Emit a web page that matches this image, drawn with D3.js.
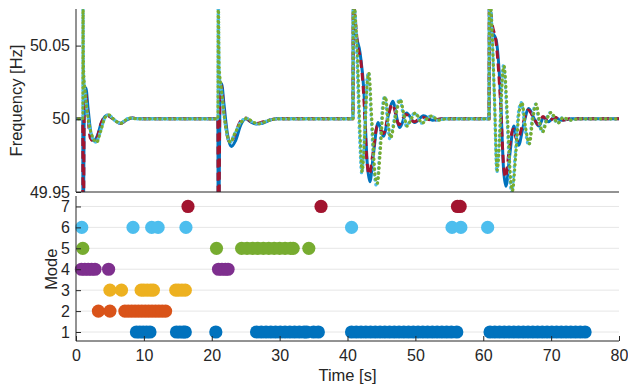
<!DOCTYPE html>
<html>
<head>
<meta charset="utf-8">
<script src="https://cdn.jsdelivr.net/npm/d3@7"></script>
<style>
  body { margin: 0; background: #fff; }
  svg { display: block; font-family: "Liberation Sans", Arial, sans-serif; }
  .axis path, .axis line { stroke: #262626; }
  .axis text { fill: #262626; font-size: 16px; }
  .label { fill: #262626; font-size: 16.5px; }
</style>
</head>
<body>
<svg id="chart" width="628" height="385"></svg>
<script>
// frequency traces, [time s, frequency Hz]
var freqBlue = [
  [0, 50], [1.0, 50], [1.02, 49.93], [1.1, 49.93], [1.2, 50.0], [1.45, 50.021], [1.8, 50.006], [2.2, 49.99],
  [2.6, 49.985], [3.1, 49.988], [3.8, 49.998], [4.6, 50.0025], [5.3, 50.0005], [6.0, 49.998], [6.6, 49.997],
  [7.4, 49.999], [8.3, 50.0006], [9.2, 50.0], [20.9, 50.0],
  [20.95, 49.93], [21.05, 49.93], [21.2, 50.01], [21.45, 50.024], [21.8, 50.01], [22.3, 49.99], [22.9, 49.981],
  [23.5, 49.985], [24.3, 49.996], [25.0, 50.0], [25.7, 49.998], [26.5, 49.9965], [27.5, 49.997], [28.5, 49.999],
  [29.5, 50.0], [40.8, 50.0],
  [40.85, 50.08], [41.2, 50.06], [41.85, 50.045], [42.4, 50.02], [42.9, 49.97], [43.3, 49.957], [43.8, 49.975],
  [44.5, 49.9975], [45.3, 49.988], [46.0, 50.002], [46.65, 50.012], [47.7, 49.994], [48.7, 50.004], [49.9, 49.9975],
  [51.2, 50.002], [52.5, 49.999], [54.0, 50.0], [60.85, 50.0],
  [60.9, 50.08], [61.3, 50.06], [61.9, 50.054], [62.5, 50.02], [63.0, 49.965], [63.35, 49.954], [63.9, 49.975],
  [64.5, 49.995], [65.2, 49.982], [65.9, 49.995], [66.7, 50.007], [67.5, 50.0], [68.2, 49.995], [68.9, 50.001],
  [69.6, 49.998], [70.5, 50.001], [71.5, 49.999], [73.0, 50.0], [80, 50.0]
];
var freqRed = [
  [0, 50], [1.0, 50], [1.02, 49.93], [1.12, 49.93], [1.2, 50.005], [1.35, 50.02], [1.7, 50.005], [2.1, 49.987],
  [2.5, 49.985], [3.0, 49.986], [3.7, 49.997], [4.6, 50.0025], [5.3, 50.0005], [6.0, 49.998], [6.5, 49.9968],
  [7.4, 49.999], [8.3, 50.0006], [9.2, 50.0], [20.9, 50.0],
  [20.95, 49.93], [21.05, 49.93], [21.2, 50.012], [21.4, 50.023], [21.8, 50.005], [22.3, 49.988], [22.7, 49.984],
  [23.3, 49.988], [24.2, 49.998], [25.0, 50.0005], [25.8, 49.998], [26.6, 49.9968], [27.6, 49.998], [28.8, 49.9995],
  [30.0, 50.0], [40.8, 50.0],
  [40.85, 50.08], [41.1, 50.07], [41.5, 50.05], [41.95, 50.04], [42.4, 50.015], [42.8, 49.975], [43.2, 49.962],
  [43.7, 49.975], [44.4, 49.995], [45.3, 49.99], [46.0, 50.002], [46.6, 50.01], [47.6, 49.996], [48.6, 50.003],
  [49.8, 49.998], [51.0, 50.001], [52.5, 49.999], [54.0, 50.0], [60.85, 50.0],
  [60.9, 50.08], [61.3, 50.065], [61.95, 50.05], [62.5, 50.015], [63.0, 49.968], [63.3, 49.96], [63.8, 49.978],
  [64.4, 49.993], [65.0, 49.985], [65.8, 49.996], [66.6, 50.006], [67.4, 50.001], [68.1, 49.996], [68.8, 50.0015],
  [69.6, 49.998], [70.5, 50.001], [71.5, 49.999], [73.0, 50.0], [80, 50.0]
];
var freqLightBlue = [
  [0, 50], [1.0, 50], [1.03, 50.09], [1.12, 50.03], [1.4, 50.015], [1.9, 49.997], [2.5, 49.986], [3.0, 49.984],
  [3.5, 49.99], [4.2, 50.0], [4.75, 50.0027], [5.4, 50.0005], [6.1, 49.9975], [6.6, 49.997], [7.3, 49.9995],
  [8.0, 50.0005], [8.8, 50.0], [20.9, 50.0],
  [20.95, 50.09], [21.1, 50.03], [21.4, 50.02], [21.9, 49.999], [22.4, 49.986], [22.7, 49.984], [23.3, 49.989],
  [24.3, 49.998], [25.1, 50.0003], [25.9, 49.998], [26.8, 49.9965], [27.8, 49.998], [28.8, 49.9995], [30.0, 50.0],
  [40.8, 50.0],
  [40.85, 50.09], [41.1, 50.075], [41.4, 50.04], [41.8, 49.985], [42.1, 49.9625], [42.5, 49.99], [42.9, 50.028],
  [43.1, 50.0315], [43.5, 50.0], [44.0, 49.96], [44.3, 49.954], [44.7, 49.975], [45.2, 50.01], [45.5, 50.0155],
  [45.9, 49.997], [46.25, 49.986], [46.9, 50.0], [47.7, 50.0136], [48.2, 50.003], [48.7, 49.995], [49.3, 50.0],
  [49.9, 50.004], [50.9, 49.997], [51.6, 50.0], [52.4, 50.002], [53.2, 49.999], [54.5, 50.0], [60.85, 50.0],
  [60.9, 50.09], [61.2, 50.07], [61.6, 50.02], [62.0, 49.9635], [62.4, 49.99], [62.8, 50.03], [63.0, 50.037],
  [63.5, 50.0], [64.0, 49.955], [64.2, 49.95], [64.7, 49.975], [65.2, 50.005], [65.6, 50.011], [66.1, 49.995],
  [66.7, 49.982], [67.2, 50.0], [67.7, 50.01], [68.2, 49.998], [68.65, 49.991], [69.3, 50.0], [69.9, 50.0043],
  [70.9, 49.997], [71.7, 50.001], [72.6, 49.999], [74.0, 50.0], [80, 50.0]
];
var freqGreen = [
  [0, 50], [1.0, 50], [1.03, 50.09], [1.1, 50.035], [1.4, 50.016], [1.95, 49.996], [2.5, 49.987], [3.05, 49.984],
  [3.6, 49.991], [4.3, 50.001], [4.8, 50.0027], [5.5, 50.0], [6.2, 49.9975], [6.7, 49.997], [7.4, 49.9995],
  [8.1, 50.0005], [8.9, 50.0], [20.9, 50.0],
  [20.95, 50.09], [21.1, 50.035], [21.4, 50.021], [21.95, 49.998], [22.45, 49.986], [22.75, 49.984], [23.4, 49.99],
  [24.4, 49.998], [25.2, 50.0003], [26.0, 49.998], [26.9, 49.9966], [27.9, 49.998], [28.9, 49.9995], [30.0, 50.0],
  [40.8, 50.0],
  [40.85, 50.09], [41.15, 50.07], [41.45, 50.045], [41.85, 49.99], [42.15, 49.964], [42.55, 49.99], [42.95, 50.027],
  [43.15, 50.031], [43.6, 49.998], [44.1, 49.96], [44.4, 49.956], [44.8, 49.976], [45.3, 50.01], [45.6, 50.015],
  [46.0, 49.997], [46.35, 49.987], [47.0, 50.0], [47.8, 50.013], [48.3, 50.003], [48.8, 49.995], [49.4, 50.0],
  [50.0, 50.004], [51.0, 49.997], [51.7, 50.0], [52.5, 50.002], [53.3, 49.999], [54.6, 50.0], [60.85, 50.0],
  [60.9, 50.09], [61.25, 50.065], [61.65, 50.015], [62.05, 49.965], [62.45, 49.99], [62.85, 50.03], [63.05, 50.036],
  [63.6, 49.998], [64.1, 49.955], [64.3, 49.951], [64.8, 49.976], [65.3, 50.005], [65.7, 50.011], [66.2, 49.995],
  [66.8, 49.983], [67.3, 50.0], [67.8, 50.01], [68.3, 49.998], [68.75, 49.991], [69.4, 50.0], [70.0, 50.0043],
  [71.0, 49.997], [71.8, 50.001], [72.7, 49.999], [74.1, 50.0], [80, 50.0]
];

// mode scatter: times at which each mode is active
var mode1Times = [8.9, 9.4, 9.9, 10.4, 10.9, 14.8, 15.3, 15.8, 16.1, 20.6,
  26.6, 27.3, 28.0, 28.7, 29.4, 30.1, 30.8, 31.5, 32.2, 32.9, 33.6, 34.0, 35.0, 35.7,
  40.6, 41.3, 42.0, 42.7, 43.4, 44.1, 44.8, 45.5, 46.2, 46.9, 47.6, 48.3, 49.0, 49.7, 50.4, 51.1, 51.8,
  52.5, 53.2, 53.9, 54.6, 55.3, 56.1,
  61.0, 61.7, 62.4, 63.1, 63.8, 64.5, 65.2, 65.9, 66.6, 67.3, 68.0, 68.7, 69.4, 70.1, 70.8, 71.5,
  72.2, 72.9, 73.6, 74.3, 75.0];
var mode2Times = [3.3, 5.0, 7.2, 7.7, 8.2, 8.7, 9.2, 9.7, 10.2, 10.7, 11.2, 11.7, 12.2, 12.7, 13.2];
var mode3Times = [5.0, 6.7, 9.6, 10.0, 10.5, 11.0, 11.4, 14.7, 15.1, 15.6, 16.1];
var mode4Times = [0.8, 1.3, 1.8, 2.3, 2.8, 4.8, 21.0, 21.5, 22.0, 22.4];
var mode5Times = [1.0, 20.7, 24.4, 25.2, 26.0, 26.8, 27.6, 28.4, 29.2, 30.0, 30.8, 31.6, 32.0, 34.3];
var mode6Times = [0.85, 8.4, 11.15, 12.1, 16.2, 40.6, 55.4, 56.7, 60.65];
var mode7Times = [16.5, 36.1, 56.2, 56.6];

var modeColors = ["#0072BD", "#D95319", "#EDB120", "#7E2F8E", "#77AC30", "#4DBEEE", "#A2142F"];
var freqTicks = [49.95, 50, 50.05];
var modeTicks = [1, 2, 3, 4, 5, 6, 7];
var timeTicks = [0, 10, 20, 30, 40, 50, 60, 70, 80];

var svg = d3.select("#chart");
var left = 76, right = 619;

var x = d3.scaleLinear().domain([0, 80]).range([left, right]);
var yF = d3.scaleLinear().domain([49.95, 50.075]).range([192, 9]);
var yM = d3.scaleLinear().domain([0.57, 7.5]).range([341, 196]);

// ---- top panel: frequency ----
svg.append("clipPath").attr("id", "topClip")
  .append("rect").attr("x", left).attr("y", 9).attr("width", right - left).attr("height", 183);

var line = d3.line()
  .x(function(d) { return x(d[0]); })
  .y(function(d) { return yF(d[1]); })
  .curve(d3.curveMonotoneX);

var traces = svg.append("g").attr("clip-path", "url(#topClip)");
traces.append("path").datum(freqBlue)
  .attr("d", line).attr("fill", "none").attr("stroke", "#0072BD").attr("stroke-width", 3);
traces.append("path").datum(freqRed)
  .attr("d", line).attr("fill", "none").attr("stroke", "#A2142F").attr("stroke-width", 3)
  .attr("stroke-dasharray", "8,5");
traces.append("path").datum(freqLightBlue)
  .attr("d", line).attr("fill", "none").attr("stroke", "#4DBEEE").attr("stroke-width", 3.2)
  .attr("stroke-linecap", "round").attr("stroke-dasharray", "0.5,4.5");
traces.append("path").datum(freqGreen)
  .attr("d", line).attr("fill", "none").attr("stroke", "#77AC30").attr("stroke-width", 3.2)
  .attr("stroke-linecap", "round").attr("stroke-dasharray", "0.5,4.5").attr("stroke-dashoffset", 2.5);

var yAxisTop = svg.append("g").attr("class", "axis")
  .attr("transform", "translate(" + left + ",0)")
  .call(d3.axisLeft(yF).tickValues(freqTicks).tickSize(-5).tickPadding(6)
    .tickFormat(function(d) { return String(+d.toFixed(2)); }));
yAxisTop.select(".domain").attr("d", "M0," + yF.range()[1] + "V" + yF.range()[0]);

svg.append("line")
  .attr("x1", left).attr("x2", right).attr("y1", 192).attr("y2", 192)
  .attr("stroke", "#262626");

svg.append("text").attr("class", "label")
  .attr("transform", "translate(22," + yF(50.0125) + ") rotate(-90)")
  .attr("text-anchor", "middle")
  .text("Frequency [Hz]");

// ---- bottom panel: mode ----
svg.append("g").selectAll("line")
  .data(modeTicks)
  .enter().append("line")
  .attr("x1", left).attr("x2", right)
  .attr("y1", function(d) { return yM(d); })
  .attr("y2", function(d) { return yM(d); })
  .attr("stroke", "#e6e6e6");

var modeSets = [mode1Times, mode2Times, mode3Times, mode4Times, mode5Times, mode6Times, mode7Times];
modeSets.forEach(function(times, i) {
  svg.append("g").selectAll("circle")
    .data(times)
    .enter().append("circle")
    .attr("cx", function(d) { return x(d); })
    .attr("cy", yM(i + 1))
    .attr("r", 6.6)
    .attr("fill", modeColors[i]);
});

var yAxisBot = svg.append("g").attr("class", "axis")
  .attr("transform", "translate(" + left + ",0)")
  .call(d3.axisLeft(yM).tickValues(modeTicks).tickSize(-5).tickPadding(6).tickFormat(d3.format("d")));
yAxisBot.select(".domain").attr("d", "M0,196V341");

var xAxis = svg.append("g").attr("class", "axis")
  .attr("transform", "translate(0,341)")
  .call(d3.axisBottom(x).tickValues(timeTicks).tickSize(-5).tickPadding(9));
xAxis.select(".domain").attr("d", "M" + left + ",0H" + right);

svg.append("text").attr("class", "label")
  .attr("transform", "translate(57," + yM(4) + ") rotate(-90)")
  .attr("text-anchor", "middle")
  .text("Mode");

svg.append("text").attr("class", "label")
  .attr("x", x(40)).attr("y", 381)
  .attr("text-anchor", "middle")
  .text("Time [s]");
</script>
</body>
</html>
